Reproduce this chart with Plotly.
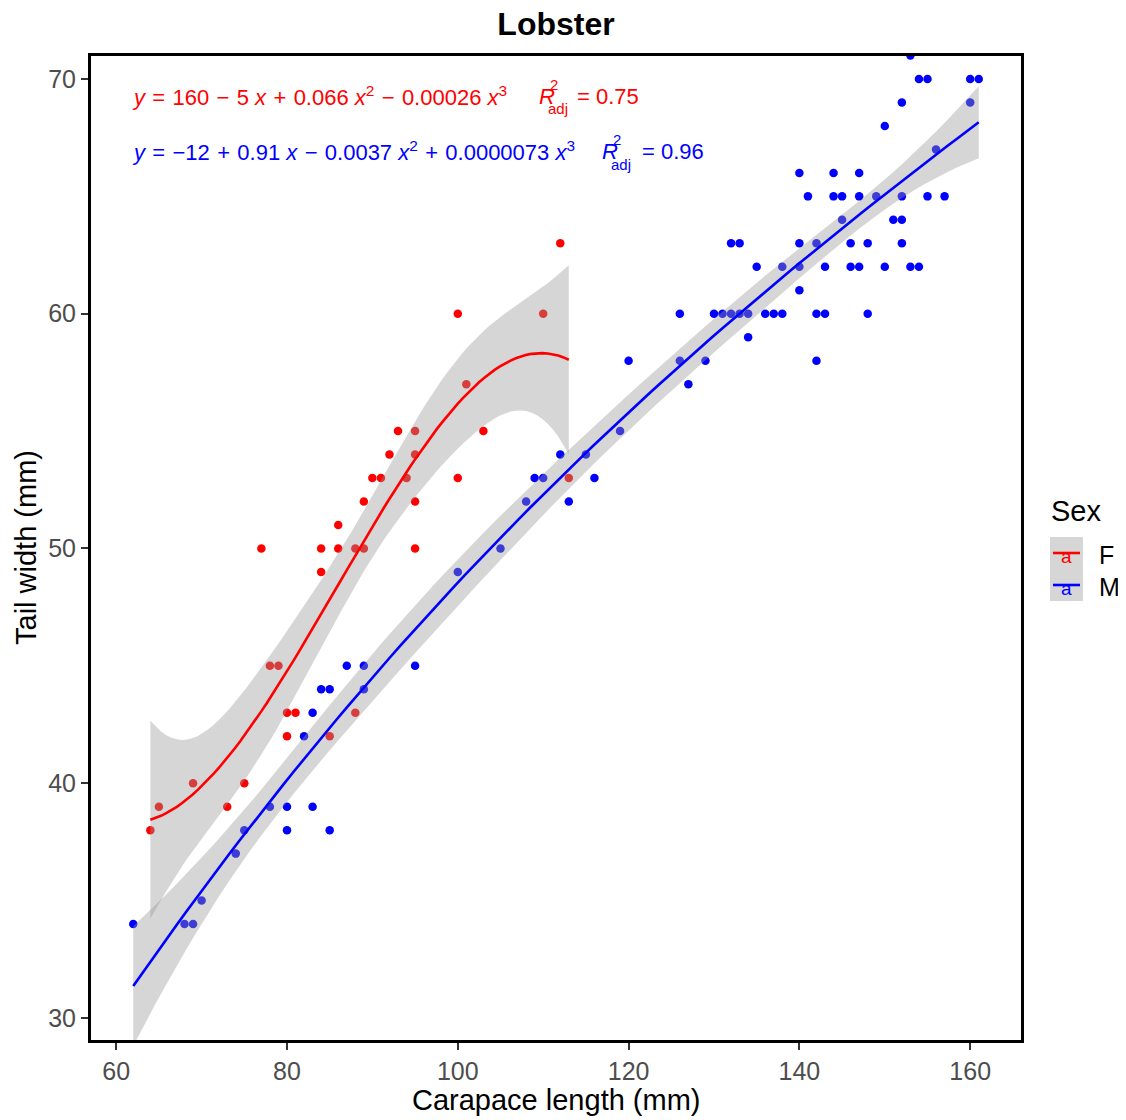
import numpy as np
import plotly.graph_objects as go

# ---------------- data ----------------
f_carapace = [64, 65, 69, 73, 75, 77, 78, 79, 80, 80, 81, 84, 84, 85, 86, 86, 88, 88, 89, 89,
              90, 91, 92, 93, 94, 95, 95, 95, 95, 100, 100, 101, 103, 110, 112, 113]
f_tail = [38, 39, 40, 39, 40, 50, 45, 45, 43, 42, 43, 49, 50, 42, 51, 50, 50, 43, 50, 52,
          53, 53, 54, 55, 53, 55, 54, 52, 50, 60, 53, 57, 55, 60, 63, 53]

m_carapace = [62, 68, 69, 70, 74, 75, 78, 80, 80, 82, 83, 83, 84, 85, 85, 87, 89, 89, 95,
              100, 105, 108, 109, 110, 112, 113, 115, 116, 119, 120, 126, 126, 127, 129,
              130, 131, 132, 132, 133, 133, 134, 134, 135, 136, 137, 138, 138,
              140, 140, 140, 140, 141, 142, 142, 142, 143, 143, 144, 144, 145, 145, 146, 146,
              147, 147, 147, 148, 148, 149, 150, 150, 151, 152, 152, 152, 152, 153, 153,
              154, 154, 155, 155, 156, 157, 160, 160, 161]
m_tail = [34, 34, 34, 35, 37, 38, 39, 39, 38, 42, 39, 43, 44, 38, 44, 45, 45, 44, 45,
          49, 50, 52, 53, 53, 54, 52, 54, 53, 55, 58, 60, 58, 57, 58,
          60, 60, 60, 63, 60, 63, 60, 59, 62, 60, 60, 60, 62,
          63, 62, 61, 66, 65, 60, 58, 63, 60, 62, 65, 66, 64, 65, 63, 62,
          62, 65, 66, 60, 63, 65, 62, 68, 64, 63, 64, 65, 69, 62, 71,
          62, 70, 65, 70, 67, 65, 69, 70, 70]

sex_levels = ["F", "M"]
sex_colors = ["#FF0000", "#0000FF"]
x_ticks = [60, 80, 100, 120, 140, 160]
y_ticks = [30, 40, 50, 60, 70]

SP = "\u2004"  # slightly wider space around operators (plotmath-like spacing)
eq_texts = [
    f"<i>y</i>{SP}={SP}160{SP}\u2212{SP}5 <i>x</i>{SP}+{SP}0.066 <i>x</i><sup>2</sup>{SP}\u2212{SP}0.00026 <i>x</i><sup>3</sup>",
    f"<i>y</i>{SP}={SP}\u221212{SP}+{SP}0.91 <i>x</i>{SP}\u2212{SP}0.0037 <i>x</i><sup>2</sup>{SP}+{SP}0.0000073 <i>x</i><sup>3</sup>",
]
r2_values = ["0.75", "0.96"]

title_text = "Lobster"
x_title = "Carapace length (mm)"
y_title = "Tail width (mm)"
legend_title = "Sex"

FONT = "Liberation Sans, Arial, sans-serif"

# ---------------- layout geometry (page pixels) ----------------
OFF = 8                      # default body margin of the html page
WF, HF = 1118, 1112          # figure size
PL, PR, PT, PB = 91, 1021, 56, 1040   # plot area in page pixels


def px_x(p):
    return (p - PL) / (PR - PL)


def px_y(p):
    return (PB - p) / (PB - PT)


# ---------------- cubic fit with 95% CI ----------------
def t_q975(df):
    z = 1.959963985
    return (z + (z**3 + z) / (4 * df)
            + (5 * z**5 + 16 * z**3 + 3 * z) / (96 * df**2)
            + (3 * z**7 + 19 * z**5 + 17 * z**3 - 15 * z) / (384 * df**3)
            + (79 * z**9 + 776 * z**7 + 1482 * z**5 - 1920 * z**3 - 945 * z) / (92160 * df**4))


def cubic_fit(x, y, n=80):
    x = np.asarray(x, float)
    y = np.asarray(y, float)
    m, s = x.mean(), x.std()

    def design(v):
        z = (v - m) / s
        return np.column_stack([np.ones_like(z), z, z**2, z**3])

    X = design(x)
    beta, *_ = np.linalg.lstsq(X, y, rcond=None)
    resid = y - X @ beta
    dof = len(x) - 4
    s2 = resid @ resid / dof
    XtXi = np.linalg.inv(X.T @ X)
    xg = np.linspace(x.min(), x.max(), n)
    G = design(xg)
    fit = G @ beta
    se = np.sqrt(np.einsum("ij,jk,ik->i", G, XtXi, G) * s2)
    tq = t_q975(dof)
    return xg, fit, fit - tq * se, fit + tq * se


fig = go.Figure()

groups = [(f_carapace, f_tail), (m_carapace, m_tail)]

# points
for (xs, ys), name, col in zip(groups, sex_levels, sex_colors):
    fig.add_trace(go.Scatter(x=xs, y=ys, mode="markers", name=name,
                             marker=dict(color=col, size=8.5, line=dict(width=0)),
                             showlegend=False))

# smooth band + line per group
for (xs, ys), name, col in zip(groups, sex_levels, sex_colors):
    xg, fit, lo, hi = cubic_fit(xs, ys)
    fig.add_trace(go.Scatter(x=np.concatenate([xg, xg[::-1]]),
                             y=np.concatenate([hi, lo[::-1]]),
                             mode="lines", fill="toself",
                             fillcolor="rgba(153,153,153,0.4)",
                             line=dict(width=0), hoverinfo="skip", showlegend=False))
    fig.add_trace(go.Scatter(x=xg, y=fit, mode="lines",
                             line=dict(color=col, width=2.6), showlegend=False))

annotations = []
shapes = []

# equations
eq_y = [96, 151]
r_x = [537, 600]
sup_x = [548, 611]
eqs_x = [575, 640]
for i in range(2):
    col = sex_colors[i]
    annotations.append(dict(x=px_x(130), y=px_y(eq_y[i]), xref="paper", yref="paper",
                            text=eq_texts[i], showarrow=False, xanchor="left", yanchor="middle",
                            font=dict(family=FONT, size=22, color=col)))
    annotations.append(dict(x=px_x(r_x[i]), y=px_y(eq_y[i]), xref="paper", yref="paper",
                            text="<i>R</i>", showarrow=False, xanchor="left", yanchor="middle",
                            font=dict(family=FONT, size=22, color=col)))
    annotations.append(dict(x=px_x(sup_x[i]), y=px_y(eq_y[i] - 11), xref="paper", yref="paper",
                            text="2", showarrow=False, xanchor="left", yanchor="middle",
                            font=dict(family=FONT, size=15, color=col)))
    annotations.append(dict(x=px_x(sup_x[i] - 2), y=px_y(eq_y[i] + 13), xref="paper", yref="paper",
                            text="adj", showarrow=False, xanchor="left", yanchor="middle",
                            font=dict(family=FONT, size=15, color=col)))
    annotations.append(dict(x=px_x(eqs_x[i]), y=px_y(eq_y[i]), xref="paper", yref="paper",
                            text="= " + r2_values[i], showarrow=False, xanchor="left", yanchor="middle",
                            font=dict(family=FONT, size=22, color=col)))

# axis titles
annotations.append(dict(x=0.5, y=0, xref="paper", yref="paper", text=x_title, showarrow=False,
                        xanchor="center", yanchor="middle", yshift=-(1100 - PB),
                        font=dict(family=FONT, size=29, color="black")))
annotations.append(dict(x=0, y=0.5, xref="paper", yref="paper", text=y_title, showarrow=False,
                        xanchor="center", yanchor="middle", xshift=-(PL - 26), textangle=-90,
                        font=dict(family=FONT, size=29, color="black")))

# legend (manual)
annotations.append(dict(x=px_x(1049), y=px_y(511), xref="paper", yref="paper", text=legend_title,
                        showarrow=False, xanchor="left", yanchor="middle",
                        font=dict(family=FONT, size=29, color="black")))
key_top = [537, 569]
for i in range(2):
    col = sex_colors[i]
    t, b = key_top[i], key_top[i] + 32
    c = (t + b) / 2
    shapes.append(dict(type="rect", xref="paper", yref="paper",
                       x0=px_x(1050), x1=px_x(1083), y0=px_y(b), y1=px_y(t),
                       fillcolor="rgba(153,153,153,0.4)", line=dict(width=0), layer="above"))
    annotations.append(dict(x=px_x(1066.5), y=px_y(c + 3), xref="paper", yref="paper", text="a",
                            showarrow=False, xanchor="center", yanchor="middle",
                            font=dict(family=FONT, size=19, color=col)))
    shapes.append(dict(type="line", xref="paper", yref="paper",
                       x0=px_x(1053), x1=px_x(1080), y0=px_y(c), y1=px_y(c),
                       line=dict(color=col, width=2.6), layer="above"))
    annotations.append(dict(x=px_x(1097), y=px_y(c + 2), xref="paper", yref="paper",
                            text=sex_levels[i], showarrow=False, xanchor="left", yanchor="middle",
                            font=dict(family=FONT, size=25, color="black")))

axis_common = dict(showgrid=False, zeroline=False, showline=True, linewidth=3, linecolor="black",
                   mirror=True, ticks="outside", ticklen=7, tickwidth=1.5, tickcolor="#333333",
                   tickfont=dict(family=FONT, size=25, color="#4D4D4D"))

fig.update_layout(
    width=WF, height=HF,
    margin=dict(l=PL - OFF, r=(WF + OFF) - PR, t=PT - OFF, b=(HF + OFF) - PB, pad=0),
    paper_bgcolor="white", plot_bgcolor="white",
    title=dict(text="<b>" + title_text + "</b>", x=0.5, xref="paper", xanchor="center",
               y=1 - (24 - OFF) / HF, yref="container", yanchor="middle",
               font=dict(family=FONT, size=32, color="black")),
    xaxis=dict(range=[57.05, 165.95], tickvals=x_ticks, **axis_common),
    yaxis=dict(range=[29.06, 70.98], tickvals=y_ticks, **axis_common),
    annotations=annotations, shapes=shapes, showlegend=False,
)

fig.write_html("out.html")
